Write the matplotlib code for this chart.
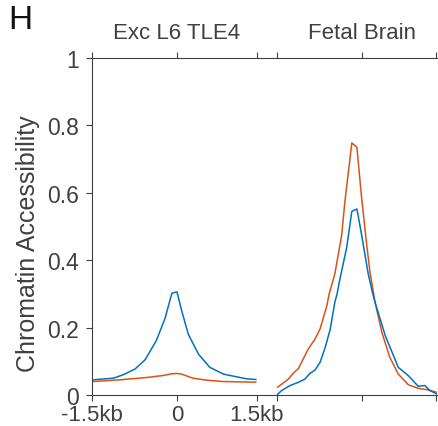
import matplotlib
matplotlib.use("Agg")
import matplotlib.pyplot as plt
import numpy as np

plt.rcParams['font.family'] = ['Liberation Sans', 'DejaVu Sans']

# panel names and where each panel's centre sits on the shared x axis (kb)
panels = ["Exc L6 TLE4", "Fetal Brain"]
offsets = [0.0, 3.265]

# Exc L6 TLE4, x in kb relative to centre
x1_blue = [-1.48, -1.12, -0.95, -0.74, -0.56, -0.36, -0.21, -0.09, 0.0, 0.08,
           0.20, 0.38, 0.58, 0.82, 1.05, 1.23, 1.39]
y1_blue = [0.045, 0.050, 0.060, 0.077, 0.105, 0.163, 0.228, 0.302, 0.306, 0.252,
           0.180, 0.121, 0.082, 0.062, 0.054, 0.048, 0.046]
x1_red = [-1.48, -1.01, -0.53, -0.24, -0.09, 0.0, 0.08, 0.28, 0.52, 0.81, 1.39]
y1_red = [0.040, 0.045, 0.052, 0.058, 0.063, 0.064, 0.062, 0.050, 0.044, 0.040, 0.038]

# Fetal Brain
x2_red = [-1.49, -1.30, -1.21, -1.12, -0.95, -0.83, -0.74, -0.62, -0.58, -0.48,
          -0.36, -0.30, -0.18, -0.09, -0.01, 0.08, 0.14, 0.23, 0.35, 0.49,
          0.64, 0.82, 0.99, 1.17, 1.32]
y2_red = [0.023, 0.047, 0.065, 0.079, 0.136, 0.166, 0.196, 0.265, 0.300, 0.359,
          0.473, 0.577, 0.748, 0.735, 0.590, 0.450, 0.365, 0.275, 0.186, 0.112,
          0.062, 0.030, 0.020, 0.015, 0.008]
x2_blue = [-1.49, -1.42, -1.27, -1.12, -1.01, -0.92, -0.83, -0.74, -0.65, -0.56,
           -0.48, -0.44, -0.39, -0.27, -0.18, -0.09, -0.01, 0.11, 0.19, 0.23,
           0.41, 0.64, 0.82, 0.99, 1.11, 1.20, 1.32]
y2_blue = [0.002, 0.013, 0.028, 0.038, 0.047, 0.064, 0.074, 0.097, 0.141, 0.196,
           0.275, 0.300, 0.344, 0.438, 0.545, 0.552, 0.478, 0.359, 0.300, 0.275,
           0.176, 0.082, 0.057, 0.026, 0.028, 0.013, 0.003]

tick_local = [[-1.5, 0, 1.41], [-1.5, 0, 1.31]]
tick_labels = ['-1.5kb', '0', '1.5kb', '', '', '']
yticks = [0, 0.2, 0.4, 0.6, 0.8, 1]
ytick_labels = ['0', '0.2', '0.4', '0.6', '0.8', '1']

blue = '#0072BD'
red = '#D95319'
grey = '#404040'

fig = plt.figure(figsize=(4.38, 4.27), dpi=100)
ax = fig.add_axes([0.210, 0.0726, 0.7877, 0.7892])

ax.plot(np.array(x1_blue) + offsets[0], y1_blue, color=blue, lw=1.1)
ax.plot(np.array(x1_red) + offsets[0], y1_red, color=red, lw=1.1)
ax.plot(np.array(x2_red) + offsets[1], y2_red, color=red, lw=1.1)
ax.plot(np.array(x2_blue) + offsets[1], y2_blue, color=blue, lw=1.1)

ax.set_xlim(-1.5, 4.588)
ax.set_ylim(0, 1)
xt = [t + offsets[i] for i in range(2) for t in tick_local[i]]
ax.set_xticks(xt)
ax.set_xticklabels(tick_labels)
ax.set_yticks(yticks)
ax.set_yticklabels(ytick_labels)
ax.tick_params(direction='out', length=4, width=0.8, color=grey,
               labelcolor=grey, labelsize=16.5, top=True)
ax.tick_params(axis='x', pad=2.5, labelsize=16)
ax.tick_params(axis='y', pad=5.5)
ax.spines['right'].set_visible(False)
for s in ['left', 'top', 'bottom']:
    ax.spines[s].set_color(grey)
    ax.spines[s].set_linewidth(0.8)

ax.set_ylabel('Chromatin Accessibility', fontsize=18, color=grey)
ax.yaxis.set_label_coords(-0.151, 0.451)

for name, off in zip(panels, offsets):
    ax.text(off, 1.077, name, transform=ax.get_xaxis_transform(),
            ha='center', va='center', fontsize=16, color=grey)

fig.text(0.018, 1 - 29 / 427, 'H', fontsize=24, color='#111111',
         ha='left', va='baseline')

fig.savefig('out.png', dpi=100)
